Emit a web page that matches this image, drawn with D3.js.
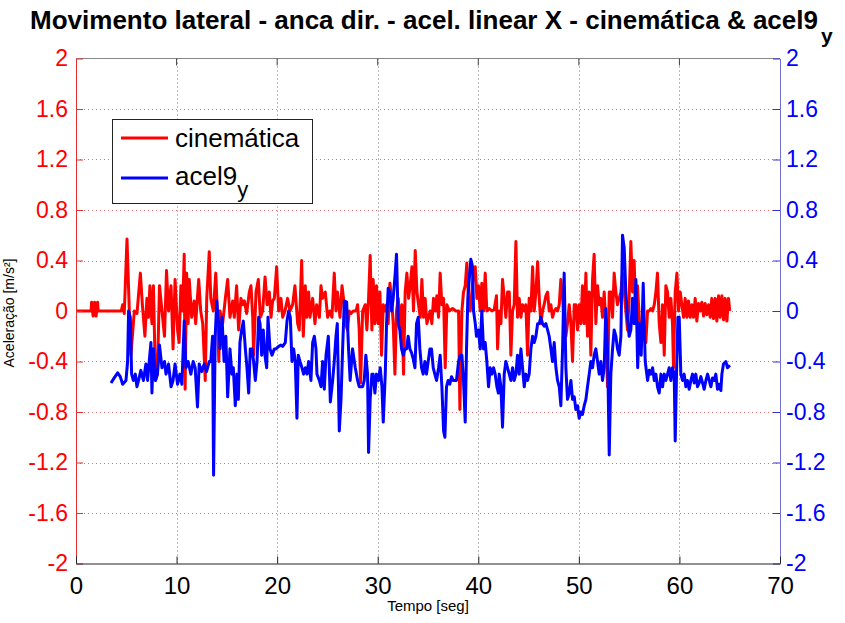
<!DOCTYPE html>
<html><head><meta charset="utf-8">
<script src="https://cdn.jsdelivr.net/npm/d3@7"></script>
<style>html,body{margin:0;padding:0;background:#fff;} svg{display:block;font-family:"Liberation Sans",Arial,sans-serif;}</style>
</head><body>
<svg id="chart" width="845" height="623"></svg>
<script>
const xTicks = [0,10,20,30,40,50,60,70];
const yTicks = [-2,-1.6,-1.2,-0.8,-0.4,0,0.4,0.8,1.2,1.6,2];
const yTickLabels = ["-2","-1.6","-1.2","-0.8","-0.4","0","0.4","0.8","1.2","1.6","2"];
const seriesNames = ["cinemática","acel9"];

const cinTime = [0,1.5,1.55,1.7,1.85,2.0,2.15,2.2,4.5,4.64,4.8,5.07,5.3,5.46,5.8,6.06,6.4,6.6,6.85,7.05,7.2,7.35,7.55,7.7,7.9,8.1,8.3,8.55,8.8,9.0,9.2,9.45,9.65,9.85,10.1,10.25,10.43,10.6,10.76,10.85,11.0,11.15,11.26,11.5,11.75,11.9,12.2,12.4,12.6,12.85,13.0,13.25,13.4,13.65,13.9,14.07,14.2,
14.32,14.58,14.85,15.08,15.31,15.58,15.74,15.97,16.17,16.4,16.57,16.74,16.97,17.23,17.4,17.57,17.66,17.9,18.13,18.33,18.56,18.8,19.0,19.22,19.39,19.55,19.72,19.95,20.15,20.38,20.55,20.78,21.04,21.28,21.54,21.77,22.04,22.2,22.44,22.6,22.8,22.93,23.13,23.26,23.53,23.76,23.93,24.2,24.36,24.52,24.79,25.02,25.25,25.45,25.68,25.85,26.0,26.25,26.45,26.6,26.78,27.0,27.17,27.34,27.57,27.84,28.0,28.16,28.3,28.5,28.76,28.92,29.09,29.25,29.42,29.55,29.72,29.88,30.05,30.22,30.38,30.55,30.71,30.88,31.04,31.21,31.38,31.54,31.71,31.87,32.04,32.24,32.4,32.57,32.73,32.9,33.07,33.23,33.4,33.56,33.73,33.9,34.06,34.23,34.39,34.56,34.72,34.89,35.05,35.22,35.38,35.55,35.72,35.88,36.05,36.21,36.38,36.55,36.71,36.88,37.11,37.44,37.77,38.04,38.17,38.37,38.53,38.7,38.86,39.03,39.2,39.36,39.53,39.7,39.86,40.02,40.19,40.35,40.52,40.69,40.85,41.08,41.35,41.58,41.81,41.92,42.08,42.25,42.41,
42.58,42.74,42.91,43.08,43.24,43.41,43.57,43.74,43.9,44.07,44.24,44.4,44.57,44.73,44.9,45.06,45.23,45.4,45.56,45.73,45.9,46.06,46.22,46.39,46.55,46.72,46.89,47.05,47.22,47.38,47.55,47.72,47.88,48.05,48.21,48.38,48.54,48.71,48.87,49.04,49.21,49.37,49.54,49.7,49.87,50.03,50.2,50.36,50.53,50.7,50.86,51.03,51.19,51.36,51.52,51.69,51.86,52.02,52.19,52.35,52.52,52.68,52.85,53.02,53.18,53.35,53.51,53.68,53.84,54.01,54.18,54.34,54.51,54.67,54.84,55.0,55.17,55.34,55.5,55.67,55.83,56.0,56.17,56.33,56.5,56.66,56.83,57.0,57.16,57.33,57.5,57.66,57.82,57.99,58.16,58.32,58.49,58.65,58.82,58.98,59.15,59.31,59.41,59.58,59.75,59.91,60.08,60.24,60.41,60.57,60.74,60.9,61.07,61.24,61.4,61.57,61.73,61.9,62.07,62.23,62.4,62.56,62.73,62.9,63.06,63.22,63.39,63.56,63.72,63.89,64.05,64.22,64.39,64.55,64.72,64.88,65.0];
const cinValue = [0,0,0.07,-0.04,0.07,-0.04,0.07,0,0,0.05,-0.02,0.57,0,-0.35,0,-0.02,0.3,0.05,-0.2,0.1,-0.05,0.2,-0.1,0.2,-0.55,-0.5,0.2,0,-0.2,0.32,0,0.2,-0.3,0.25,-0.15,-0.25,0.2,0,0.45,-0.62,0.3,-0.1,0.25,-0.05,0.08,-0.1,0.25,0,-0.1,-0.55,0.1,0.47,0.1,0,0.3,-0.05,-0.4,
0,-0.1,0.1,0.25,-0.05,0.08,-0.05,0.2,-0.15,0.1,0.05,0.08,-0.02,0.15,0.2,-0.05,-0.35,0.15,0.25,-0.05,0,0.27,0.05,0.15,-0.05,0.08,0.1,0.35,0,0.1,-0.05,0,0.1,0,0.05,0.2,-0.1,-0.15,0.4,-0.2,0.2,-0.05,0.15,-0.05,0.1,-0.1,0.05,-0.05,0.2,0.1,0.15,-0.05,0,-0.05,0.3,0,0.15,-0.05,0.2,0.1,-0.1,-0.15,0,-0.02,0,0,0.05,-0.15,-0.57,0,0.05,-0.15,0.1,0.44,-0.15,0.25,-0.1,0.2,-0.1,0.15,-0.35,0.05,0,0.05,-0.1,0.22,0.1,-0.1,-0.5,0,0.1,-0.15,0.05,-0.5,0.15,0.3,0.1,0.2,0.35,0,0.48,0.15,0.05,-0.05,0.25,-0.05,0.1,-0.1,-0.05,0,-0.1,0.1,0,0.12,-0.05,0.3,0.05,0.1,-0.45,0.05,0,0.02,0,0,-0.78,0,0.15,0.2,0.38,0.1,0,0.15,0.3,0.35,0.1,0.2,0,0.22,0,0.3,0,0.02,0,0.01,0.12,-0.3,0,-0.1,0.25,
0.1,-0.05,0.15,0.15,-0.35,0,0.05,0.55,-0.05,0.1,-0.05,0.05,0,0.05,-0.35,0.1,0,0.35,0,0.15,0.39,0.1,-0.1,0,0.05,0.12,0.15,0,0.05,-0.05,0,0.02,0,0.05,0.25,0.1,-0.1,-0.2,-0.1,0.05,-0.1,-0.4,0.05,0.05,-0.15,0.05,-0.1,0.2,-0.1,0.3,-0.2,0.15,-0.35,0.25,0.45,-0.1,0.2,0.05,0.1,-0.05,0.15,-0.1,-0.6,0.15,0.15,-0.05,0.3,0.15,0.05,0.1,0.15,0.3,0.15,0,-0.15,0.1,0.55,0.15,0.4,-0.1,0.2,-0.05,-0.25,-0.1,-0.2,-0.25,0,0,0.02,0,0.05,0.15,0.3,-0.1,-0.25,0.05,-0.35,0.2,0.15,-0.05,0.1,-0.1,-0.45,0.15,0.3,0,0.15,0.05,-0.05,0.1,-0.05,0.08,-0.05,0.05,-0.05,0.1,-0.08,0.06,0,0.07,-0.04,0.06,-0.03,0.05,-0.05,0.1,-0.06,0.1,-0.08,0.12,-0.05,0.12,-0.07,0.1,-0.08,0.1,0];

const acelTime = [3.48,3.8,4.14,4.4,4.64,4.97,5.13,5.23,5.4,5.53,5.7,5.9,6.06,6.22,6.45,6.7,6.95,7.12,7.28,7.45,7.55,7.7,7.9,8.1,8.3,8.55,8.8,8.95,9.2,9.45,9.65,9.85,10.1,10.33,10.53,10.76,10.93,11.15,11.42,11.65,11.85,12.08,12.25,12.5,12.75,12.98,13.25,13.4,13.58,13.68,13.84,14.0,14.1,14.2,14.32,14.52,14.72,14.9,15.08,15.31,15.5,15.64,15.84,16.0,16.14,16.3,16.47,16.64,16.84,17.0,17.17,17.33,17.5,17.66,17.83,18.0,18.16,18.3,18.46,18.62,18.79,18.96,19.09,19.29,19.49,19.72,19.88,20.15,20.38,20.55,20.81,20.98,21.14,21.31,21.47,21.64,21.8,21.97,22.1,22.27,22.47,22.63,22.8,22.97,23.13,23.36,23.53,23.7,23.86,23.96,24.2,24.36,24.52,24.69,24.86,25.09,25.29,25.52,25.68,25.85,25.98,26.18,26.35,26.51,26.68,26.91,27.1,27.26,27.5,27.77,28.0,28.16,28.5,28.66,28.82,28.99,29.09,29.25,29.42,29.55,29.72,29.88,30.08,30.25,30.42,30.55,30.75,30.88,31.04,31.21,31.38,31.54,31.74,31.87,32.04,32.2,32.37,32.54,32.7,32.87,33.03,33.2,33.36,33.53,33.7,33.86,34.03,34.19,34.36,34.52,34.69,34.85,35.02,35.19,35.35,35.52,35.68,35.85,36.05,36.21,36.38,36.55,36.68,36.84,37.0,37.17,37.34,37.5,37.67,37.83,38.04,38.2,38.37,38.53,38.7,38.83,38.96,39.1,39.26,39.43,39.53,39.7,39.82,40.02,40.19,40.35,40.52,40.69,40.85,41.02,41.18,41.35,41.52,41.68,41.85,42.0,42.08,42.25,42.41,
42.58,42.74,42.91,43.08,43.24,43.41,43.57,43.74,43.9,44.07,44.24,44.4,44.57,44.73,44.9,45.06,45.23,45.4,45.56,45.73,45.9,46.06,46.22,46.39,46.55,46.72,46.89,47.05,47.22,47.38,47.55,47.72,47.88,48.05,48.21,48.38,48.54,48.71,48.87,49.04,49.21,49.37,49.54,49.7,49.87,50.03,50.2,50.36,50.53,50.7,50.86,51.03,51.19,51.36,51.52,51.69,51.86,52.02,52.19,52.35,52.52,52.68,52.85,53.02,53.18,53.35,53.51,53.68,53.84,54.01,54.18,54.34,54.51,54.67,54.84,55.0,55.17,55.34,55.5,55.67,55.85,56.0,56.2,56.4,56.6,56.83,57.0,57.16,57.33,57.5,57.66,57.82,57.99,58.16,58.32,58.49,58.65,58.82,58.98,59.15,59.31,59.48,59.58,59.71,59.85,59.98,60.14,60.31,60.47,60.64,60.8,60.97,61.14,61.3,61.47,61.63,61.8,61.97,62.13,62.3,62.46,62.63,62.8,62.96,63.13,63.29,63.46,63.62,63.79,63.95,64.12,64.22,64.38,64.62,64.78,65.02];
const acelValue = [-0.57,-0.53,-0.49,-0.52,-0.58,-0.55,-0.4,0,-0.05,-0.5,-0.55,-0.5,-0.6,-0.55,-0.47,-0.55,-0.42,-0.55,-0.4,-0.25,-0.65,-0.3,-0.55,-0.5,-0.27,-0.45,-0.4,-0.5,-0.42,-0.6,-0.55,-0.42,-0.58,-0.5,-0.58,-0.08,-0.45,-0.4,-0.5,-0.4,-0.45,-0.76,-0.42,-0.48,-0.42,-0.48,-0.4,-0.4,-0.2,-1.3,-0.2,0.08,-0.05,-0.1,-0.3,-0.05,-0.4,-0.2,-0.68,-0.3,-0.5,-0.45,-0.75,-0.5,-0.7,-0.25,-0.15,-0.08,-0.3,-0.45,-0.65,-0.3,-0.3,-0.4,-0.55,-0.4,-0.05,-0.1,-0.35,-0.15,-0.35,-0.45,-0.05,-0.3,-0.35,-0.3,-0.3,-0.28,-0.27,-0.28,-0.25,-0.08,0,-0.05,-0.4,-0.3,-0.4,-0.85,-0.35,-0.4,-0.45,-0.5,-0.45,-0.5,-0.4,-0.55,-0.25,-0.2,-0.3,-0.5,-0.55,-0.6,-0.4,-0.62,-0.35,-0.2,-0.72,-0.55,-0.4,-0.2,-0.1,-0.95,-0.7,-0.3,0.08,0.07,-0.3,-0.55,-0.3,-0.45,-0.55,-0.6,-0.6,-0.55,-0.35,-0.5,-1.12,-0.7,-0.5,-0.5,-0.65,-0.5,-0.55,-0.45,-0.6,-0.88,-0.5,-0.1,0.18,0.15,0,0.1,0.3,0.45,-0.1,-0.15,-0.3,-0.35,-0.3,-0.3,-0.2,-0.3,-0.33,-0.38,-0.45,-0.1,-0.05,-0.3,-0.45,-0.5,-0.4,-0.5,-0.4,-0.3,-0.3,-0.45,-0.5,-0.55,-0.45,-0.35,-0.6,-0.95,-1.0,-0.6,-0.55,-0.58,-0.52,-0.55,-0.55,-0.55,-0.4,-0.35,-0.35,-0.55,-0.88,-0.3,0.1,0.25,0.41,0.35,0,-0.1,-0.2,-0.15,-0.3,0,-0.3,-0.25,-0.4,-0.6,-0.45,-0.5,-0.45,-0.5,-0.6,-0.65,-0.5,-0.6,-0.92,
-0.5,-0.4,-0.45,-0.5,-0.55,-0.45,-0.55,-0.5,-0.35,-0.5,-0.3,-0.45,-0.6,-0.5,-0.55,-0.5,-0.3,-0.2,-0.25,-0.2,-0.1,-0.1,-0.05,-0.1,-0.12,-0.1,-0.15,-0.2,-0.3,-0.4,-0.25,-0.45,-0.55,-0.6,-0.75,-0.3,0.3,-0.45,-0.7,-0.65,-0.55,-0.7,-0.68,-0.78,-0.75,-0.85,-0.8,-0.82,-0.75,-0.7,-0.6,-0.5,-0.4,-0.45,-0.35,-0.3,-0.4,-0.5,-0.4,-0.55,-0.45,0.02,-0.3,-1.14,-0.5,-0.3,-0.15,-0.2,-0.3,-0.35,-0.2,0.6,0.5,0.15,-0.05,-0.2,-0.15,0.1,-0.1,0.25,-0.45,-0.1,-0.35,0.22,-0.4,-0.55,-0.47,-0.5,-0.45,-0.55,-0.5,-0.6,-0.65,-0.5,-0.6,-0.5,-0.55,-0.5,-0.45,-0.55,-0.45,-0.5,-1.03,-0.5,-0.05,-0.05,-0.5,-0.55,-0.5,-0.6,-0.55,-0.62,-0.55,-0.5,-0.57,-0.5,-0.6,-0.57,-0.52,-0.57,-0.62,-0.55,-0.5,-0.55,-0.6,-0.53,-0.55,-0.5,-0.62,-0.58,-0.63,-0.5,-0.42,-0.4,-0.45,-0.43];

const svg = d3.select("#chart");
const plot = {left: 76, right: 780, top: 58.5, bottom: 563.5};
const x = d3.scaleLinear().domain([0,70]).range([plot.left, plot.right]);
const y = d3.scaleLinear().domain([-2,2]).range([plot.bottom, plot.top]);
const y2 = d3.scaleLinear().domain([-2,2]).range([plot.bottom, plot.top]);

// grid
const grid = svg.append("g");
grid.selectAll("line.h").data(yTicks.filter(d => d > -2 && d < 2)).join("line")
  .attr("x1", plot.left).attr("x2", plot.right)
  .attr("y1", d => Math.round(y(d)) + 0.5).attr("y2", d => Math.round(y(d)) + 0.5)
  .attr("stroke", "#e07070").attr("stroke-width", 1).attr("stroke-dasharray", "1,3");
grid.selectAll("line.v").data(xTicks.filter(d => d > 0 && d < 70)).join("line")
  .attr("y1", plot.top).attr("y2", plot.bottom)
  .attr("x1", d => Math.round(x(d)) + 0.5).attr("x2", d => Math.round(x(d)) + 0.5)
  .attr("stroke", "#777").attr("stroke-width", 1).attr("stroke-dasharray", "1,3");

// top border
svg.append("line").attr("x1", plot.left).attr("x2", plot.right).attr("y1", plot.top).attr("y2", plot.top)
  .attr("stroke", "#888").attr("stroke-width", 1);

// series
const cinData = cinTime.map((t,i) => [t, cinValue[i]]);
const acelData = acelTime.map((t,i) => [t, acelValue[i]]);
svg.append("path").datum(cinData)
  .attr("d", d3.line().x(d => x(d[0])).y(d => y(d[1])))
  .attr("fill", "none").attr("stroke", "#ff0000").attr("stroke-width", 3).attr("stroke-linejoin", "round");
svg.append("path").datum(acelData)
  .attr("d", d3.line().x(d => x(d[0])).y(d => y2(d[1])))
  .attr("fill", "none").attr("stroke", "#0000ff").attr("stroke-width", 3).attr("stroke-linejoin", "round");

// axes
const fmt = d => yTickLabels[yTicks.indexOf(d)];
const gL = svg.append("g").attr("transform", `translate(${plot.left},0)`)
  .call(d3.axisLeft(y).tickValues(yTicks).tickFormat(fmt).tickSizeInner(-7).tickSizeOuter(0).tickPadding(8));
gL.select(".domain").attr("stroke", "#e03030");
gL.selectAll(".tick line").attr("stroke", "#e03030");
gL.selectAll(".tick text").attr("fill", "#ff0000").attr("font-size", 23).attr("font-family", "Liberation Sans, Arial, sans-serif");

const gR = svg.append("g").attr("transform", `translate(${plot.right},0)`)
  .call(d3.axisRight(y2).tickValues(yTicks).tickFormat(fmt).tickSizeInner(-7).tickSizeOuter(0).tickPadding(6));
gR.select(".domain").attr("stroke", "#7070dd");
gR.selectAll(".tick line").attr("stroke", "#3030e0");
gR.selectAll(".tick text").attr("fill", "#0000ff").attr("font-size", 23).attr("font-family", "Liberation Sans, Arial, sans-serif");

const gB = svg.append("g").attr("transform", `translate(0,${plot.bottom})`)
  .call(d3.axisBottom(x).tickValues(xTicks).tickFormat(d3.format("d")).tickSizeInner(-7).tickSizeOuter(0).tickPadding(13));
gB.select(".domain").attr("stroke", "#222");
gB.selectAll(".tick line").attr("stroke", "#222");
gB.selectAll(".tick text").attr("fill", "#000").attr("font-size", 24).attr("font-family", "Liberation Sans, Arial, sans-serif");

// top ticks
svg.append("g").selectAll("line").data(xTicks.filter(d => d > 0 && d < 70)).join("line")
  .attr("x1", d => x(d)).attr("x2", d => x(d)).attr("y1", plot.top).attr("y2", plot.top + 7)
  .attr("stroke", "#444");

// title
svg.append("text").attr("x", 30).attr("y", 29)
  .attr("font-size", 26).attr("font-weight", "bold").attr("fill", "#000")
  .attr("textLength", 788).attr("lengthAdjust", "spacingAndGlyphs")
  .text("Movimento lateral - anca dir. - acel. linear X - cinemática & acel9");
svg.append("text").attr("x", 821).attr("y", 43)
  .attr("font-size", 21).attr("font-weight", "bold").attr("fill", "#000").text("y");

// axis labels
svg.append("text").attr("x", 428).attr("y", 611).attr("text-anchor", "middle")
  .attr("font-size", 15).text("Tempo [seg]");
svg.append("text").attr("transform", "translate(14,313) rotate(-90)").attr("text-anchor", "middle")
  .attr("font-size", 14).text("Aceleração [m/s²]");

// legend
const lg = svg.append("g");
lg.append("rect").attr("x", 112.5).attr("y", 119.5).attr("width", 200).attr("height", 84)
  .attr("fill", "#fff").attr("stroke", "#222").attr("stroke-width", 1);
lg.append("line").attr("x1", 121).attr("x2", 168).attr("y1", 138).attr("y2", 138).attr("stroke", "#ff0000").attr("stroke-width", 3);
lg.append("line").attr("x1", 121).attr("x2", 168).attr("y1", 178).attr("y2", 178).attr("stroke", "#0000ff").attr("stroke-width", 3);
lg.append("text").attr("x", 175).attr("y", 147).attr("font-size", 26).text(seriesNames[0]);
const t2 = lg.append("text").attr("x", 175).attr("y", 185).attr("font-size", 26);
t2.append("tspan").text(seriesNames[1]);
t2.append("tspan").attr("dy", 12).attr("font-size", 22).text("y");
</script>
</body></html>
